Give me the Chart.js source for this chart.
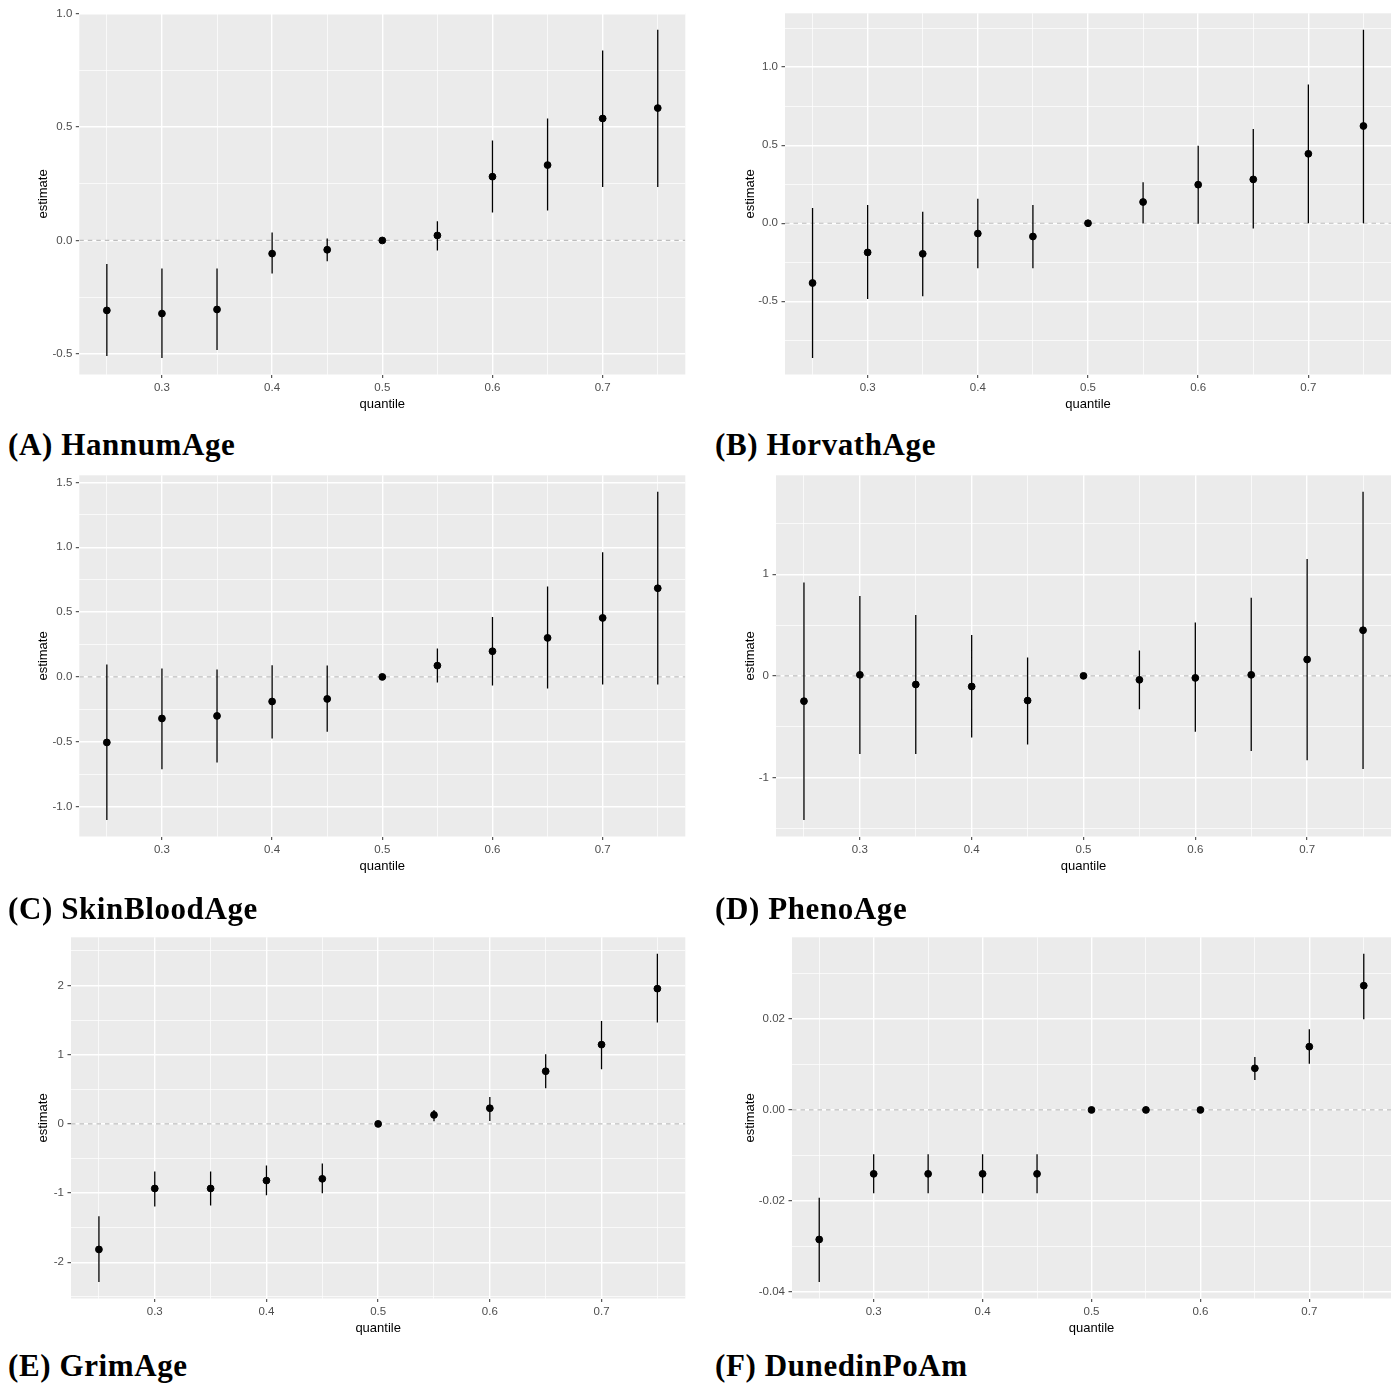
<!DOCTYPE html>
<html>
<head>
<meta charset="utf-8">
<script src="https://cdn.jsdelivr.net/npm/chart.js@4.4.1/dist/chart.umd.min.js"></script>
<style>
html,body{margin:0;padding:0;background:#ffffff;}
body{width:1400px;height:1396px;position:relative;overflow:hidden;}
.panel{position:absolute;width:700px;height:420px;}
.cap{position:absolute;font-family:"Liberation Serif","Times New Roman",serif;font-weight:bold;font-size:31px;line-height:31px;letter-spacing:0.6px;white-space:nowrap;color:#000;}
</style>
</head>
<body>
<div class="panel" style="left:0px;top:0px"><canvas id="cA"></canvas></div>
<div class="panel" style="left:700px;top:0px"><canvas id="cB"></canvas></div>
<div class="panel" style="left:0px;top:462px"><canvas id="cC"></canvas></div>
<div class="panel" style="left:700px;top:462px"><canvas id="cD"></canvas></div>
<div class="panel" style="left:0px;top:924px"><canvas id="cE"></canvas></div>
<div class="panel" style="left:700px;top:924px"><canvas id="cF"></canvas></div>

<div class="cap" style="left:8px;top:429px">(A) HannumAge</div>
<div class="cap" style="left:715px;top:429px">(B) HorvathAge</div>
<div class="cap" style="left:8px;top:893px">(C) SkinBloodAge</div>
<div class="cap" style="left:715px;top:893px">(D) PhenoAge</div>
<div class="cap" style="left:8px;top:1350px">(E) GrimAge</div>
<div class="cap" style="left:715px;top:1350px">(F) DunedinPoAm</div>

<script>
// ---------------- data ----------------
const quantiles = [0.25, 0.30, 0.35, 0.40, 0.45, 0.50, 0.55, 0.60, 0.65, 0.70, 0.75];
const xTickValues = [0.3, 0.4, 0.5, 0.6, 0.7];
const xTickLabels = ['0.3', '0.4', '0.5', '0.6', '0.7'];

// (A) HannumAge
const hannumEst  = [-0.308, -0.322, -0.304, -0.058, -0.041, 0, 0.022, 0.281, 0.332, 0.537, 0.583];
const hannumLow  = [-0.509, -0.518, -0.482, -0.146, -0.092, 0, -0.044, 0.123, 0.132, 0.235, 0.235];
const hannumHigh = [-0.104, -0.124, -0.124, 0.035, 0.009, 0, 0.085, 0.440, 0.537, 0.836, 0.928];
const hannumTicks = [-0.5, 0, 0.5, 1.0];
const hannumTickLabels = ['-0.5', '0.0', '0.5', '1.0'];

// (B) HorvathAge
const horvathEst  = [-0.383, -0.187, -0.196, -0.066, -0.085, 0, 0.136, 0.247, 0.281, 0.445, 0.623];
const horvathLow  = [-0.864, -0.485, -0.468, -0.289, -0.289, 0, 0.000, -0.004, -0.034, 0.000, 0.000];
const horvathHigh = [0.098, 0.117, 0.074, 0.157, 0.117, 0, 0.262, 0.496, 0.604, 0.889, 1.240];
const horvathTicks = [-0.5, 0, 0.5, 1.0];
const horvathTickLabels = ['-0.5', '0.0', '0.5', '1.0'];

// (C) SkinBloodAge
const skinEst  = [-0.506, -0.321, -0.301, -0.190, -0.170, 0, 0.087, 0.198, 0.301, 0.455, 0.684];
const skinLow  = [-1.105, -0.712, -0.661, -0.476, -0.424, 0, -0.044, -0.067, -0.090, -0.059, -0.059];
const skinHigh = [0.095, 0.064, 0.057, 0.090, 0.087, 0, 0.219, 0.463, 0.697, 0.961, 1.429];
const skinTicks = [-1.0, -0.5, 0, 0.5, 1.0, 1.5];
const skinTickLabels = ['-1.0', '-0.5', '0.0', '0.5', '1.0', '1.5'];

// (D) PhenoAge
const phenoEst  = [-0.249, 0.010, -0.085, -0.105, -0.243, 0, -0.039, -0.020, 0.010, 0.161, 0.449];
const phenoLow  = [-1.420, -0.770, -0.770, -0.607, -0.675, 0, -0.328, -0.551, -0.741, -0.830, -0.918];
const phenoHigh = [0.918, 0.787, 0.600, 0.403, 0.180, 0, 0.249, 0.525, 0.770, 1.151, 1.813];
const phenoTicks = [-1, 0, 1];
const phenoTickLabels = ['-1', '0', '1'];

// (E) GrimAge
const grimEst  = [-1.815, -0.934, -0.934, -0.819, -0.794, 0, 0.130, 0.226, 0.761, 1.146, 1.955];
const grimLow  = [-2.287, -1.194, -1.180, -1.030, -1.001, 0, 0.039, 0.043, 0.515, 0.790, 1.464];
const grimHigh = [-1.334, -0.689, -0.689, -0.602, -0.573, 0, 0.202, 0.390, 1.006, 1.487, 2.460];
const grimTicks = [-2, -1, 0, 1, 2];
const grimTickLabels = ['-2', '-1', '0', '1', '2'];

// (F) DunedinPoAm
const dunedinEst  = [-0.02855, -0.01409, -0.01409, -0.01409, -0.01409, 0, 0, 0, 0.00917, 0.01394, 0.02738];
const dunedinLow  = [-0.03794, -0.01835, -0.01835, -0.01835, -0.01835, 0, 0, 0, 0.00661, 0.01020, 0.01996];
const dunedinHigh = [-0.01938, -0.00976, -0.00976, -0.00976, -0.00976, 0, 0, 0, 0.01167, 0.01776, 0.03442];
const dunedinTicks = [-0.04, -0.02, 0, 0.02];
const dunedinTickLabels = ['-0.04', '-0.02', '0.00', '0.02'];

// ---------------- helpers ----------------
const SANS = '"Liberation Sans", Arial, Helvetica, sans-serif';
Chart.defaults.font.family = SANS;

function expandRange(vals) {
  const mn = Math.min(...vals), mx = Math.max(...vals);
  const r = mx - mn;
  return [mn - 0.05 * r, mx + 0.05 * r];
}
function gridValues(major, lim) {
  const step = major[1] - major[0];
  const out = [];
  for (let k = -4; k <= 2 * (major.length - 1) + 4; k++) {
    const v = Math.round((major[0] + k * step / 2) * 1e9) / 1e9;
    if (v >= lim[0] && v <= lim[1]) out.push(v);
  }
  return out;
}
function majorIndex(v, major) {
  return major.findIndex(m => Math.abs(m - v) < 1e-9);
}

const panelBg = {
  id: 'panelBg',
  beforeDraw(chart) {
    const { ctx, chartArea: a } = chart;
    ctx.save();
    ctx.fillStyle = '#EBEBEB';
    ctx.fillRect(a.left, a.top, a.right - a.left, a.bottom - a.top);
    ctx.restore();
  }
};

const xLim = expandRange(quantiles);
const xGrid = gridValues(xTickValues, xLim);

function makePanel(cfg) {
  const yLim = expandRange(cfg.low.concat(cfg.high, cfg.est));
  const yGrid = gridValues(cfg.ticks, yLim);
  const axisGrid = (major) => ({
    color: '#FFFFFF',
    lineWidth: (c) => (c.tick && majorIndex(c.tick.value, major) >= 0) ? 1.4 : 0.7,
    drawTicks: true,
    tickLength: 3.5,
    tickWidth: 1,
    tickColor: (c) => (c.tick && majorIndex(c.tick.value, major) >= 0) ? '#333333' : 'rgba(0,0,0,0)'
  });

  new Chart(document.getElementById(cfg.id), {
    type: 'line',
    data: {
      datasets: [
        {
          label: 'estimate',
          data: quantiles.map((q, i) => ({ x: q, y: cfg.est[i] })),
          showLine: false,
          pointRadius: 3.4,
          pointStyle: 'circle',
          pointBackgroundColor: '#000000',
          pointBorderColor: '#000000',
          pointBorderWidth: 1
        },
        {
          label: 'interval',
          data: quantiles.flatMap((q, i) => [{ x: q, y: cfg.low[i] }, { x: q, y: cfg.high[i] }, { x: q, y: null }]),
          borderColor: '#000000',
          borderWidth: 1.3,
          pointRadius: 0,
          spanGaps: false,
          fill: false,
          tension: 0
        },
        {
          label: 'zero',
          data: [{ x: xLim[0], y: 0 }, { x: xLim[1], y: 0 }],
          borderColor: '#BDBDBD',
          borderWidth: 1.2,
          borderDash: [4.5, 4],
          pointRadius: 0,
          fill: false
        }
      ]
    },
    options: {
      responsive: true,
      maintainAspectRatio: false,
      animation: false,
      events: [],
      layout: { padding: { top: 13.3, right: cfg.padRight, bottom: 0, left: 0 } },
      plugins: { legend: { display: false }, tooltip: { enabled: false } },
      scales: {
        x: {
          type: 'linear',
          min: xLim[0],
          max: xLim[1],
          afterBuildTicks: (ax) => { ax.ticks = xGrid.map(v => ({ value: v })); },
          afterFit: (ax) => { ax.height = 45.5; },
          ticks: {
            autoSkip: false, maxRotation: 0, minRotation: 0, padding: 3,
            color: '#4D4D4D', font: { family: SANS, size: 11.5 },
            callback: (v) => { const i = majorIndex(v, xTickValues); return i >= 0 ? xTickLabels[i] : ''; }
          },
          grid: axisGrid(xTickValues),
          border: { display: false },
          title: { display: true, text: 'quantile', color: '#000000', font: { family: SANS, size: 13 }, padding: { top: 0, bottom: 7.6 } }
        },
        y: {
          type: 'linear',
          min: yLim[0],
          max: yLim[1],
          afterBuildTicks: (ax) => { ax.ticks = yGrid.map(v => ({ value: v })); },
          afterFit: (ax) => { ax.width = cfg.axisWidth; },
          ticks: {
            autoSkip: false, padding: 3.5,
            color: '#4D4D4D', font: { family: SANS, size: 11.5 },
            callback: (v) => { const i = majorIndex(v, cfg.ticks); return i >= 0 ? cfg.tickLabels[i] : ''; }
          },
          grid: axisGrid(cfg.ticks),
          border: { display: false },
          title: { display: true, text: 'estimate', color: '#000000', font: { family: SANS, size: 13 }, padding: { top: cfg.titleOffset, bottom: 0 } }
        }
      }
    },
    plugins: [panelBg]
  });
}

makePanel({ id: 'cA', est: hannumEst, low: hannumLow, high: hannumHigh, ticks: hannumTicks, tickLabels: hannumTickLabels, axisWidth: 79.3, padRight: 14.7, titleOffset: 35.7 });
makePanel({ id: 'cB', est: horvathEst, low: horvathLow, high: horvathHigh, ticks: horvathTicks, tickLabels: horvathTickLabels, axisWidth: 85, padRight: 9, titleOffset: 42.7 });
makePanel({ id: 'cC', est: skinEst, low: skinLow, high: skinHigh, ticks: skinTicks, tickLabels: skinTickLabels, axisWidth: 79.3, padRight: 14.7, titleOffset: 35.7 });
makePanel({ id: 'cD', est: phenoEst, low: phenoLow, high: phenoHigh, ticks: phenoTicks, tickLabels: phenoTickLabels, axisWidth: 76, padRight: 9, titleOffset: 42.7 });
makePanel({ id: 'cE', est: grimEst, low: grimLow, high: grimHigh, ticks: grimTicks, tickLabels: grimTickLabels, axisWidth: 71, padRight: 14.7, titleOffset: 35.7 });
makePanel({ id: 'cF', est: dunedinEst, low: dunedinLow, high: dunedinHigh, ticks: dunedinTicks, tickLabels: dunedinTickLabels, axisWidth: 92, padRight: 9, titleOffset: 42.7 });
</script>
</body>
</html>
